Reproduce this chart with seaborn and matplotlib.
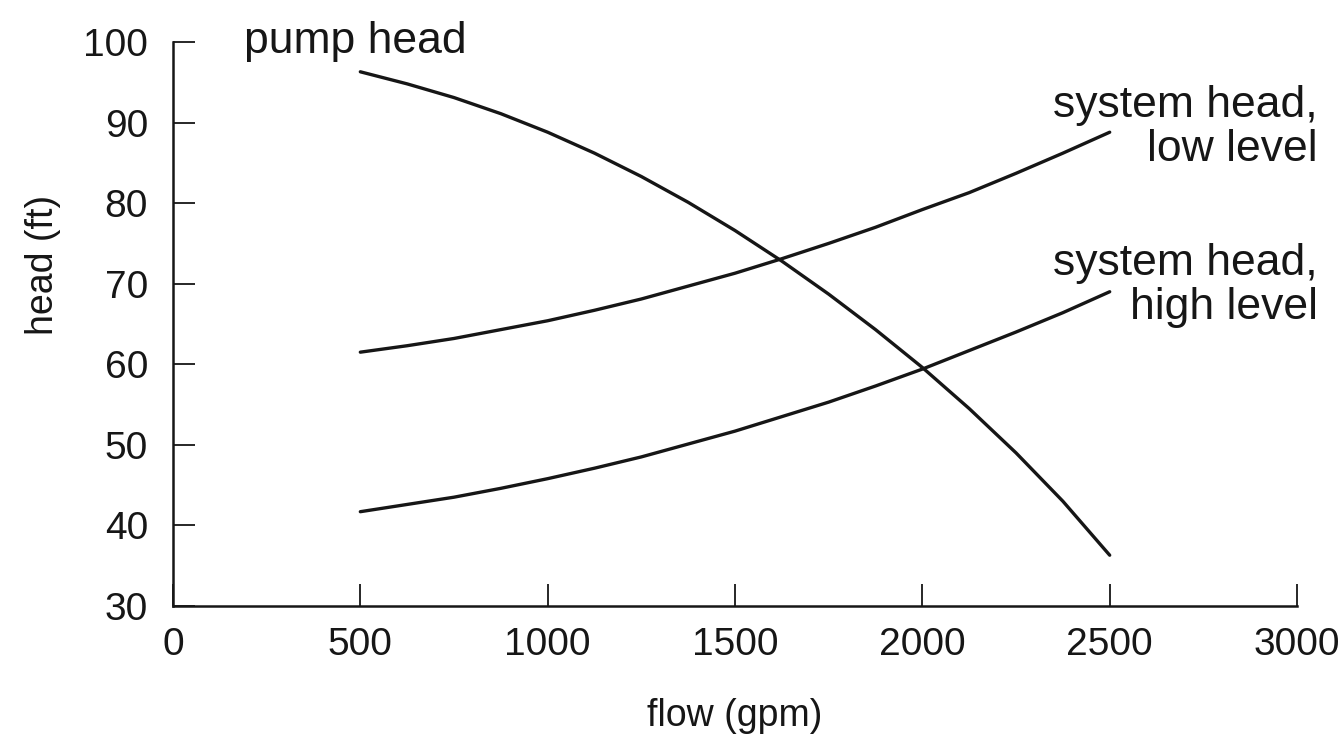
import matplotlib
matplotlib.use("Agg")
import matplotlib.pyplot as plt
import seaborn as sns
import pandas as pd

# Flow rates (gpm) at which the curves are tabulated
flow = [500, 625, 750, 875, 1000, 1125, 1250, 1375, 1500,
        1625, 1750, 1875, 2000, 2125, 2250, 2375, 2500]

# Head (ft) for each curve
pump_head = [96.3, 94.8, 93.1, 91.1, 88.8, 86.2, 83.3, 80.1, 76.6,
             72.8, 68.7, 64.3, 59.6, 54.5, 49.0, 43.0, 36.3]
system_low = [61.5, 62.3, 63.2, 64.3, 65.4, 66.7, 68.1, 69.7, 71.3,
              73.1, 75.0, 77.0, 79.2, 81.3, 83.7, 86.2, 88.8]
system_high = [41.7, 42.6, 43.5, 44.6, 45.8, 47.1, 48.5, 50.1, 51.7,
               53.5, 55.3, 57.3, 59.4, 61.7, 64.0, 66.4, 69.0]

x_ticks = [0, 500, 1000, 1500, 2000, 2500, 3000]
y_ticks = [30, 40, 50, 60, 70, 80, 90, 100]

sns.set_style("ticks")
plt.rcParams["font.family"] = ["Liberation Sans", "DejaVu Sans"]

df = pd.DataFrame({
    "flow": flow * 3,
    "head": pump_head + system_low + system_high,
    "curve": (["pump head"] * len(flow)
              + ["system head, low level"] * len(flow)
              + ["system head, high level"] * len(flow)),
})

ink = "#161616"

fig = plt.figure(figsize=(13.42, 7.55), dpi=100)
ax = fig.add_axes([0.1289, 0.1974, 0.8376, 0.747])

sns.lineplot(data=df, x="flow", y="head", units="curve", estimator=None,
             color=ink, linewidth=2.4, ax=ax, legend=False, sort=False)

ax.set_xlim(0, 3000)
ax.set_ylim(30, 100)
ax.set_xticks(x_ticks)
ax.set_yticks(y_ticks)
ax.tick_params(axis="both", direction="in", length=16, width=1.3,
               color=ink, labelsize=28, labelcolor=ink)
ax.tick_params(axis="x", pad=15)
ax.tick_params(axis="y", pad=18)

sns.despine(ax=ax)
for side in ("left", "bottom"):
    ax.spines[side].set_linewidth(1.8)
    ax.spines[side].set_color(ink)

ax.set_xlabel("flow (gpm)", fontsize=27, color=ink)
ax.set_ylabel("head (ft)", fontsize=27, color=ink)
ax.xaxis.set_label_coords(0.5, -0.163)
ax.yaxis.set_label_coords(-0.10, 0.605)

label_kw = dict(fontsize=32, color=ink, clip_on=False)
ax.text(486, 100.0, "pump head", ha="center", va="center", **label_kw)
ax.text(3055, 89.4, "system head,\nlow level", ha="right", va="center",
        multialignment="right", linespacing=1.1, **label_kw)
ax.text(3055, 69.8, "system head,\nhigh level", ha="right", va="center",
        multialignment="right", linespacing=1.1, **label_kw)

fig.savefig("out.png", dpi=100, facecolor="white")
